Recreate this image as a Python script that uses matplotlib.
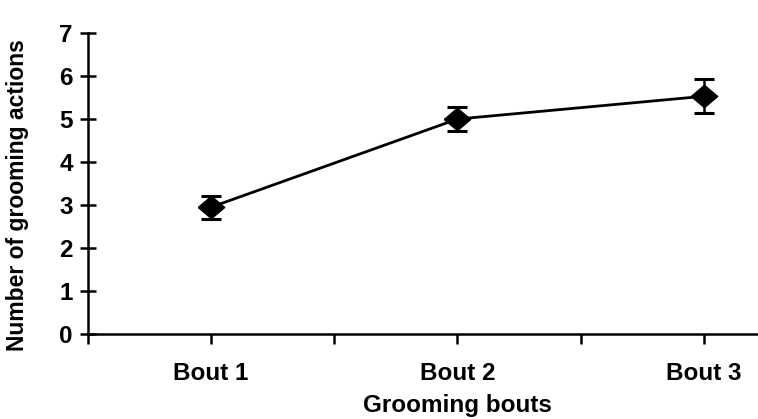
import numpy as np
import matplotlib
matplotlib.use('Agg')
import matplotlib.pyplot as plt

# grooming actions per bout (mean +/- error)
bouts = ['Bout 1', 'Bout 2', 'Bout 3']
actions_mean = [2.95, 5.0, 5.53]
actions_err = [0.27, 0.28, 0.40]

plt.rcParams['font.family'] = ['Liberation Sans', 'DejaVu Sans']
plt.rcParams['font.weight'] = 'bold'

fig = plt.figure(figsize=(7.58, 4.19), dpi=100)
ax = fig.add_axes([0.116, 0.203, 0.884, 0.718])

# slightly flattened diamond
diamond = [(-1, 0), (0, 0.85), (1, 0), (0, -0.85), (-1, 0)]

xpos = np.arange(1, len(bouts) + 1)
ax.errorbar(xpos, actions_mean, yerr=actions_err, color='black', lw=2.0,
            marker=diamond, markersize=19, capsize=7.5, capthick=2.2,
            elinewidth=1.8)

ax.set_ylim(0, 7)
ax.set_xlim(0.5, 3.22)
ax.set_yticks(range(0, 8))
ax.set_xticks(xpos)
ax.set_xticklabels(bouts, fontsize=17.5, fontweight='bold')
ax.set_xticks([0.5, 1.5, 2.5], minor=True)
ax.tick_params(axis='y', which='major', direction='inout', length=12, width=1.8,
               labelsize=17.5, pad=5)
ax.tick_params(axis='x', which='both', direction='out', length=7, width=1.8,
               labelsize=17.5, pad=13)
for lbl in ax.get_yticklabels():
    lbl.set_fontweight('bold')

for side in ['top', 'right']:
    ax.spines[side].set_visible(False)
for side in ['left', 'bottom']:
    ax.spines[side].set_linewidth(1.8)

ax.set_ylabel('Number of grooming actions', fontsize=16.5, fontweight='bold')
ax.yaxis.set_label_coords(-0.088, 0.46)
ax.set_xlabel('Grooming bouts', fontsize=17.5, fontweight='bold', labelpad=1)
ax.xaxis.set_label_coords(0.551, -0.2)

fig.savefig('out.png', dpi=100)
